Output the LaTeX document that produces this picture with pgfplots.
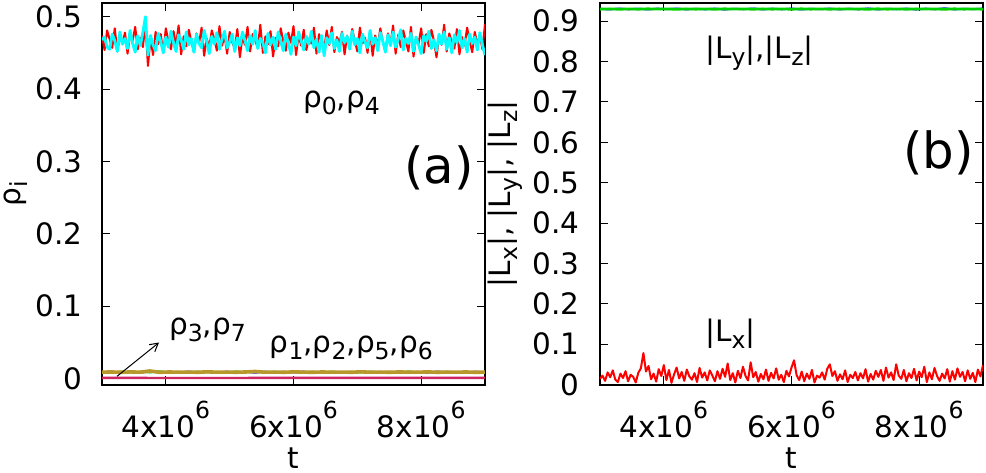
\documentclass[border=0pt]{standalone}
\usepackage{fontspec}
\setmainfont{DejaVu Sans}
\usepackage{pgfplots}
\pgfplotsset{compat=1.18}
\usepackage{pgfplotstable}
\usetikzlibrary{arrows.meta}

% lowered / raised indices in the text font
\newcommand\subr[1]{\raisebox{-3.5bp}{\fontsize{11.8}{12}\selectfont #1}}
\newcommand\supr[1]{\raisebox{9.5bp}{\fontsize{11.8}{12}\selectfont #1}}

\definecolor{golden}{RGB}{184,152,42}
\definecolor{rose}{RGB}{205,35,95}
\definecolor{dgreen}{RGB}{0,210,0}
\definecolor{aqua}{RGB}{0,255,255}
\definecolor{pure red}{RGB}{255,0,0}
\definecolor{pure blue}{RGB}{0,0,255}

% t in units of 10^6
\pgfplotstableread{
t    r0    r4    lx
3.00 0.474 0.468 0.014
3.04 0.454 0.472 0.022
3.08 0.481 0.458 0.009
3.12 0.469 0.455 0.030
3.16 0.457 0.476 0.018
3.20 0.484 0.467 0.035
3.24 0.452 0.452 0.012
3.28 0.472 0.479 0.006
3.32 0.463 0.462 0.027
3.36 0.478 0.470 0.016
3.40 0.449 0.456 0.033
3.44 0.475 0.481 0.008
3.48 0.467 0.463 0.024
3.52 0.486 0.451 0.019
3.56 0.455 0.474 0.005
3.60 0.471 0.460 0.029
3.64 0.458 0.478 0.040
3.68 0.489 0.500 0.078
3.72 0.432 0.447 0.032
3.76 0.470 0.474 0.046
3.80 0.447 0.461 0.013
3.84 0.479 0.453 0.027
3.88 0.462 0.477 0.007
3.92 0.476 0.466 0.038
3.96 0.450 0.450 0.021
4.00 0.484 0.472 0.048
4.04 0.466 0.458 0.011
4.08 0.455 0.480 0.036
4.12 0.480 0.464 0.004
4.16 0.461 0.452 0.025
4.20 0.488 0.475 0.042
4.24 0.448 0.468 0.015
4.28 0.473 0.455 0.031
4.32 0.459 0.479 0.009
4.36 0.482 0.461 0.037
4.40 0.466 0.470 0.020
4.44 0.451 0.451 0.012
4.48 0.477 0.476 0.028
4.52 0.463 0.463 0.006
4.56 0.485 0.457 0.041
4.60 0.446 0.481 0.017
4.64 0.470 0.466 0.030
4.68 0.458 0.449 0.010
4.72 0.481 0.473 0.035
4.76 0.469 0.462 0.022
4.80 0.453 0.478 0.008
4.84 0.487 0.455 0.033
4.88 0.460 0.469 0.014
4.92 0.474 0.480 0.039
4.96 0.449 0.457 0.019
5.00 0.479 0.465 0.052
5.04 0.465 0.476 0.011
5.08 0.456 0.452 0.028
5.12 0.483 0.471 0.005
5.16 0.444 0.460 0.034
5.20 0.472 0.479 0.016
5.24 0.461 0.467 0.044
5.28 0.486 0.453 0.021
5.32 0.452 0.474 0.010
5.36 0.476 0.462 0.055
5.40 0.467 0.481 0.018
5.44 0.457 0.456 0.031
5.48 0.489 0.470 0.007
5.52 0.450 0.464 0.026
5.56 0.473 0.450 0.013
5.60 0.462 0.477 0.037
5.64 0.480 0.461 0.009
5.68 0.445 0.472 0.029
5.72 0.471 0.455 0.015
5.76 0.459 0.479 0.040
5.80 0.484 0.466 0.012
5.84 0.466 0.453 0.024
5.88 0.453 0.476 0.006
5.92 0.478 0.463 0.034
5.96 0.464 0.448 0.020
6.00 0.487 0.472 0.042
6.04 0.447 0.460 0.060
6.08 0.475 0.479 0.023
6.12 0.460 0.467 0.011
6.16 0.482 0.454 0.032
6.20 0.454 0.473 0.008
6.24 0.470 0.462 0.027
6.28 0.463 0.480 0.014
6.32 0.485 0.457 0.036
6.36 0.449 0.469 0.005
6.40 0.476 0.451 0.022
6.44 0.466 0.474 0.017
6.48 0.455 0.446 0.030
6.52 0.481 0.471 0.012
6.56 0.461 0.463 0.039
6.60 0.486 0.478 0.050
6.64 0.451 0.456 0.021
6.68 0.472 0.468 0.033
6.72 0.464 0.452 0.009
6.76 0.479 0.477 0.025
6.80 0.448 0.464 0.013
6.84 0.474 0.473 0.035
6.88 0.458 0.455 0.006
6.92 0.483 0.480 0.024
6.96 0.467 0.461 0.016
7.00 0.452 0.470 0.031
7.04 0.485 0.450 0.010
7.08 0.463 0.476 0.028
7.12 0.471 0.465 0.015
7.16 0.450 0.457 0.038
7.20 0.480 0.481 0.007
7.24 0.446 0.462 0.026
7.28 0.474 0.471 0.012
7.32 0.460 0.453 0.034
7.36 0.484 0.478 0.019
7.40 0.465 0.466 0.036
7.44 0.453 0.451 0.009
7.48 0.477 0.475 0.042
7.52 0.462 0.460 0.017
7.56 0.488 0.479 0.030
7.60 0.449 0.458 0.011
7.64 0.475 0.469 0.050
7.68 0.458 0.482 0.022
7.72 0.481 0.454 0.014
7.76 0.466 0.470 0.036
7.80 0.452 0.463 0.008
7.84 0.486 0.477 0.028
7.88 0.445 0.452 0.016
7.92 0.471 0.472 0.039
7.96 0.463 0.461 0.010
8.00 0.484 0.449 0.032
8.04 0.450 0.474 0.018
8.08 0.476 0.466 0.044
8.12 0.459 0.480 0.006
8.16 0.482 0.456 0.030
8.20 0.467 0.468 0.013
8.24 0.444 0.453 0.041
8.28 0.473 0.476 0.021
8.32 0.461 0.462 0.009
8.36 0.489 0.479 0.027
8.40 0.452 0.455 0.015
8.44 0.477 0.471 0.038
8.48 0.465 0.450 0.007
8.52 0.456 0.475 0.033
8.56 0.483 0.464 0.012
8.60 0.448 0.481 0.040
8.64 0.472 0.457 0.019
8.68 0.460 0.470 0.031
8.72 0.485 0.451 0.008
8.76 0.466 0.476 0.035
8.80 0.451 0.463 0.014
8.84 0.479 0.472 0.029
8.88 0.462 0.454 0.006
8.92 0.474 0.478 0.037
8.96 0.455 0.461 0.020
9.00 0.490 0.447 0.048
}\noisy

\pgfplotstableread{
t    g      b      o      ly     lz
3.00 0.0092 0.0085 0.0088 0.9305 0.9298
3.15 0.0080 0.0095 0.0090 0.9290 0.9304
3.30 0.0098 0.0082 0.0086 0.9312 0.9296
3.45 0.0084 0.0093 0.0091 0.9294 0.9303
3.60 0.0095 0.0079 0.0087 0.9308 0.9297
3.75 0.0081 0.0097 0.0104 0.9289 0.9305
3.90 0.0101 0.0086 0.0085 0.9310 0.9299
4.05 0.0086 0.0092 0.0090 0.9296 0.9302
4.20 0.0094 0.0080 0.0087 0.9313 0.9295
4.35 0.0079 0.0098 0.0089 0.9291 0.9304
4.50 0.0097 0.0085 0.0086 0.9306 0.9298
4.65 0.0083 0.0091 0.0092 0.9293 0.9303
4.80 0.0092 0.0081 0.0087 0.9311 0.9296
4.95 0.0080 0.0096 0.0089 0.9288 0.9305
5.10 0.0099 0.0084 0.0086 0.9307 0.9299
5.25 0.0085 0.0093 0.0090 0.9295 0.9302
5.40 0.0093 0.0078 0.0097 0.9314 0.9297
5.55 0.0082 0.0095 0.0087 0.9290 0.9304
5.70 0.0096 0.0086 0.0089 0.9309 0.9298
5.85 0.0081 0.0092 0.0086 0.9294 0.9303
6.00 0.0102 0.0083 0.0091 0.9312 0.9296
6.15 0.0084 0.0097 0.0088 0.9289 0.9305
6.30 0.0095 0.0080 0.0086 0.9306 0.9298
6.45 0.0080 0.0094 0.0090 0.9296 0.9303
6.60 0.0098 0.0087 0.0087 0.9311 0.9297
6.75 0.0083 0.0091 0.0089 0.9291 0.9304
6.90 0.0094 0.0079 0.0086 0.9308 0.9299
7.05 0.0081 0.0098 0.0092 0.9293 0.9302
7.20 0.0097 0.0085 0.0087 0.9315 0.9296
7.35 0.0086 0.0092 0.0089 0.9290 0.9305
7.50 0.0093 0.0080 0.0086 0.9307 0.9298
7.65 0.0079 0.0096 0.0090 0.9295 0.9303
7.80 0.0100 0.0084 0.0088 0.9310 0.9297
7.95 0.0084 0.0093 0.0087 0.9288 0.9304
8.10 0.0095 0.0078 0.0091 0.9309 0.9299
8.25 0.0082 0.0097 0.0086 0.9294 0.9302
8.40 0.0097 0.0086 0.0089 0.9318 0.9296
8.55 0.0080 0.0091 0.0087 0.9291 0.9305
8.70 0.0094 0.0082 0.0090 0.9306 0.9298
8.85 0.0085 0.0095 0.0086 0.9297 0.9303
9.00 0.0092 0.0084 0.0088 0.9311 0.9297
}\flat

\pgfplotsset{
  panel/.style={
    scale only axis, width=191.5bp, height=190.75bp,
    xmin=3, xmax=9,
    xtick={4,6,8},
    xticklabels={4x10\supr{6}, 6x10\supr{6}, 8x10\supr{6}},
    tick align=inside, major tick length=4bp,
    tick style={black, line width=0.5bp},
    axis line style={line width=1bp},
    /pgf/number format/assume math mode=true,
    xticklabel style={anchor=base, inner sep=0pt, yshift=-26.25bp},
    yticklabel style={anchor=east, inner sep=0pt, xshift=-9.5bp},
    xlabel={t},
    xlabel style={at={(axis description cs:0.5,-0.2189)}, anchor=base},
    every axis plot/.append style={line join=round},
  },
}

\begin{document}
\begin{tikzpicture}[font=\fontsize{14.8}{17}\selectfont]
\useasboundingbox (0,0) rectangle (493bp,236.5bp);

% (a) populations
\begin{axis}[panel,
  at={(51bp,44.25bp)}, anchor=south west,
  ymin=-0.0083, ymax=0.519,
  ytick={0,0.1,0.2,0.3,0.4,0.5},
  ylabel={ρ\subr{i}},
  ylabel style={at={(axis description cs:-0.2245,0.5)}, anchor=center, inner sep=0pt},
]
\addplot[dgreen, line width=0.9bp] table[x=t, y=g] {\flat};
\addplot[pure blue, line width=0.9bp] table[x=t, y=b] {\flat};
\addplot[golden, line width=1.8bp] table[x=t, y=o] {\flat};
\addplot[rose, line width=1.2bp] coordinates {(3,0.0008) (4.5,0.0007) (6,0.0008) (7.5,0.0009) (9,0.0008)};
\addplot[pure red, line width=1bp] table[x=t, y=r0] {\noisy};
\addplot[aqua, line width=1.4bp] table[x=t, y=r4] {\noisy};

\node[anchor=base west] at (axis cs:6.04,0.374) {ρ\subr{0},ρ\subr{4}};
\node[anchor=base west] at (axis cs:3.94,0.0608) {ρ\subr{3},ρ\subr{7}};
\node[anchor=base west] at (axis cs:5.52,0.0359) {ρ\subr{1},ρ\subr{2},ρ\subr{5},ρ\subr{6}};
\node[font=\fontsize{25}{28}\selectfont] at (axis cs:8.28,0.2907) {(a)};
\draw[-{Straight Barb[length=4bp,width=4.5bp]}, line width=0.5bp]
  (axis cs:3.235,0.003) -- (axis cs:3.893,0.0497);
\end{axis}

% (b) |L| components
\begin{axis}[panel,
  at={(300bp,44.25bp)}, anchor=south west,
  ymin=0, ymax=0.945,
  ytick={0,0.1,0.2,0.3,0.4,0.5,0.6,0.7,0.8,0.9},
  yticklabel style={xshift=-0.5bp},
  ylabel={|L\subr{x}|, |L\subr{y}|, |L\subr{z}|},
  ylabel style={at={(axis description cs:-0.2487,0.5)}, anchor=center, inner sep=0pt},
]
\addplot[pure red, line width=1bp] table[x=t, y=lx] {\noisy};
\addplot[pure blue, line width=1bp] table[x=t, y=ly] {\flat};
\addplot[dgreen, line width=1.4bp] table[x=t, y=lz] {\flat};

\node[anchor=base west] at (axis cs:4.54,0.808) {|L\subr{y}|,|L\subr{z}|};
\node[anchor=base west] at (axis cs:4.54,0.1074) {|L\subr{x}|};
\node[font=\fontsize{25}{28}\selectfont] at (axis cs:8.30,0.5744) {(b)};
\end{axis}
\end{tikzpicture}
\end{document}
